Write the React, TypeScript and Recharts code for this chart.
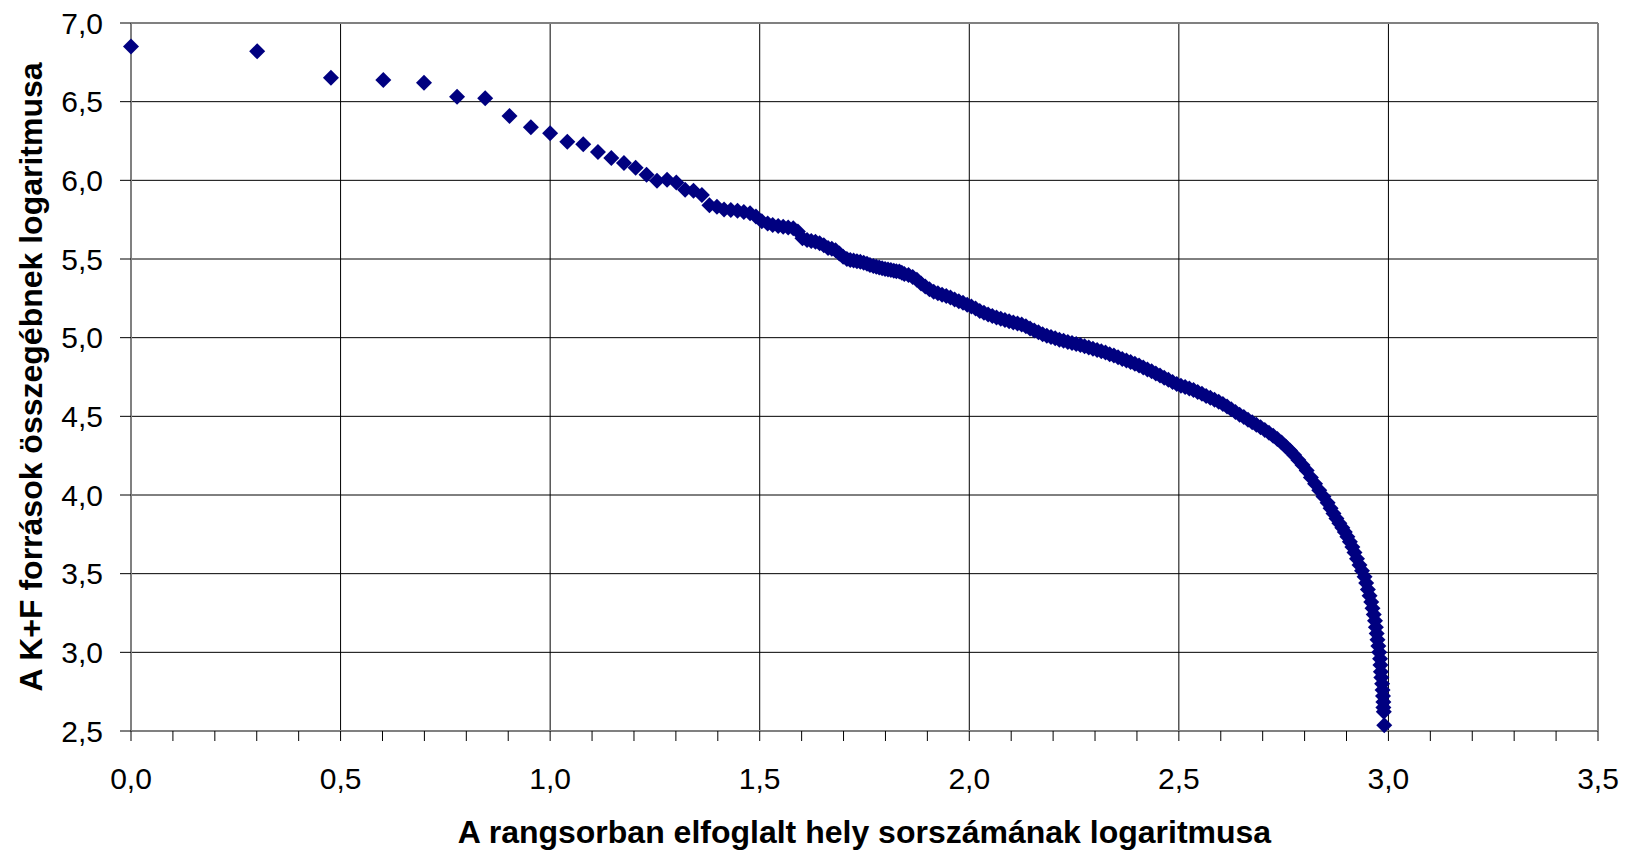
import React from 'react';
import { ScatterChart, Scatter, XAxis, YAxis, CartesianGrid, ReferenceLine } from 'recharts';

// Ranks 1..70: [log10(rank), log10(K+F sum)]
const headPoints: [number, number][] = [
  [0, 6.85], [0.301, 6.82], [0.477, 6.652], [0.602, 6.638], [0.699, 6.62],
  [0.778, 6.531], [0.845, 6.521], [0.903, 6.409], [0.954, 6.337], [1.0, 6.3],
  [1.041, 6.245], [1.079, 6.229], [1.114, 6.18], [1.146, 6.142], [1.176, 6.11],
  [1.204, 6.08], [1.23, 6.036], [1.255, 5.998], [1.279, 6.004], [1.301, 5.986],
  [1.322, 5.94], [1.342, 5.934], [1.362, 5.906], [1.38, 5.842], [1.398, 5.832],
  [1.415, 5.814], [1.431, 5.812], [1.447, 5.806], [1.462, 5.798], [1.477, 5.79],
  [1.491, 5.77], [1.505, 5.74], [1.519, 5.725], [1.531, 5.716], [1.544, 5.709],
  [1.556, 5.705], [1.568, 5.7], [1.58, 5.695], [1.591, 5.675], [1.602, 5.632],
  [1.613, 5.62], [1.623, 5.615], [1.633, 5.61], [1.643, 5.6], [1.653, 5.588],
  [1.663, 5.57], [1.672, 5.565], [1.681, 5.556], [1.69, 5.535], [1.699, 5.515],
  [1.708, 5.5], [1.716, 5.493], [1.724, 5.49], [1.732, 5.486], [1.74, 5.482],
  [1.748, 5.476], [1.756, 5.47], [1.763, 5.462], [1.771, 5.456], [1.778, 5.45],
  [1.785, 5.446], [1.792, 5.442], [1.799, 5.437], [1.806, 5.433], [1.813, 5.43],
  [1.82, 5.426], [1.826, 5.422], [1.833, 5.42], [1.839, 5.412], [1.845, 5.405],
];

const bodyPoints: [number, number][] = [
  [1.855, 5.398], [1.865, 5.385], [1.875, 5.368], [1.885, 5.345], [1.895, 5.325],
  [1.905, 5.308], [1.915, 5.292], [1.925, 5.282], [1.935, 5.272], [1.945, 5.265],
  [1.955, 5.255], [1.965, 5.243], [1.975, 5.232], [1.985, 5.222], [1.995, 5.21],
  [2.005, 5.198], [2.015, 5.185], [2.025, 5.17], [2.035, 5.158], [2.045, 5.148],
  [2.055, 5.138], [2.065, 5.128], [2.075, 5.12], [2.085, 5.112], [2.095, 5.105],
  [2.105, 5.097], [2.115, 5.09], [2.125, 5.083], [2.135, 5.072], [2.145, 5.058],
  [2.155, 5.046], [2.165, 5.035], [2.175, 5.022], [2.185, 5.012], [2.195, 5.004],
  [2.205, 4.996], [2.215, 4.987], [2.225, 4.98], [2.235, 4.973], [2.245, 4.966],
  [2.255, 4.96], [2.265, 4.953], [2.275, 4.945], [2.285, 4.937], [2.295, 4.93],
  [2.305, 4.922], [2.315, 4.913], [2.325, 4.905], [2.335, 4.895], [2.345, 4.886],
  [2.355, 4.876], [2.365, 4.865], [2.375, 4.855], [2.385, 4.845], [2.395, 4.835],
  [2.405, 4.823], [2.415, 4.81], [2.425, 4.798], [2.435, 4.786], [2.445, 4.773],
  [2.455, 4.76], [2.465, 4.746], [2.475, 4.732], [2.485, 4.718], [2.495, 4.706],
  [2.505, 4.695], [2.515, 4.686], [2.525, 4.677], [2.535, 4.667], [2.545, 4.655],
  [2.555, 4.643], [2.565, 4.63], [2.575, 4.618], [2.585, 4.605], [2.595, 4.592],
  [2.605, 4.578], [2.615, 4.562], [2.625, 4.545], [2.635, 4.527], [2.645, 4.51],
  [2.655, 4.495], [2.665, 4.478], [2.675, 4.462], [2.685, 4.446], [2.695, 4.43],
  [2.705, 4.413], [2.715, 4.395], [2.725, 4.376], [2.735, 4.356], [2.745, 4.334],
  [2.755, 4.308], [2.765, 4.283], [2.775, 4.254], [2.785, 4.222], [2.795, 4.19],
  [2.805, 4.155], [2.815, 4.112], [2.825, 4.072], [2.835, 4.03], [2.845, 3.99],
  [2.855, 3.95],
];

const tailPoints: [number, number][] = [
  [2.862, 3.915], [2.869, 3.883], [2.876, 3.85], [2.883, 3.82], [2.89, 3.792],
  [2.896, 3.765], [2.902, 3.735], [2.908, 3.703], [2.914, 3.67], [2.919, 3.635],
  [2.925, 3.595], [2.931, 3.555], [2.937, 3.518], [2.943, 3.48], [2.947, 3.44],
  [2.951, 3.4], [2.955, 3.36], [2.959, 3.32], [2.962, 3.28], [2.965, 3.24],
  [2.968, 3.2], [2.97, 3.16], [2.972, 3.12], [2.974, 3.08], [2.976, 3.04],
  [2.978, 3.0], [2.98, 2.96], [2.981, 2.92], [2.982, 2.876], [2.983, 2.84],
  [2.985, 2.8], [2.986, 2.76], [2.987, 2.722], [2.988, 2.685], [2.988, 2.65],
  [2.989, 2.622], [2.99, 2.537],
];

const xTicks = [
  0, 0.1, 0.2, 0.3, 0.4, 0.5, 0.6, 0.7, 0.8, 0.9, 1.0, 1.1, 1.2, 1.3, 1.4, 1.5, 1.6, 1.7,
  1.8, 1.9, 2.0, 2.1, 2.2, 2.3, 2.4, 2.5, 2.6, 2.7, 2.8, 2.9, 3.0, 3.1, 3.2, 3.3, 3.4, 3.5,
];
const xGrid = [0.5, 1.0, 1.5, 2.0, 2.5, 3.0];
const yTicks = [2.5, 3.0, 3.5, 4.0, 4.5, 5.0, 5.5, 6.0, 6.5, 7.0];

const xTitle = 'A rangsorban elfoglalt hely sorszámának logaritmusa';
const yTitle = 'A K+F források összegébnek logaritmusa';

const FONT = '"Liberation Sans", Arial, sans-serif';
const MARKER = '#000080';

const fmt = (v: number) => v.toFixed(1).replace('.', ',');

const Diamond = (props: any) => {
  const { cx, cy } = props;
  if (cx == null || cy == null) return null;
  const r = 8;
  return (
    <polygon
      points={`${cx},${cy - r} ${cx + r},${cy} ${cx},${cy + r} ${cx - r},${cy}`}
      fill={MARKER}
    />
  );
};

const XTick = (props: any) => {
  const { x, y, payload } = props;
  const v = payload.value as number;
  const major = Math.abs(v * 2 - Math.round(v * 2)) < 1e-6;
  return (
    <g>
      <line x1={x} y1={y} x2={x} y2={y + 10} stroke="#000" strokeWidth={1} />
      {major && (
        <text x={x} y={y + 58} textAnchor="middle" fontSize={30} fontFamily={FONT} fill="#000">
          {fmt(v)}
        </text>
      )}
    </g>
  );
};

export default function App() {
  const data = [...headPoints, ...bodyPoints, ...tailPoints].map(([x, y]) => ({ x, y }));
  return (
    <div style={{ position: 'absolute', left: 0, top: 0, width: 1636, height: 851, background: '#fff' }}>
      <ScatterChart width={1636} height={851} margin={{ top: 23, right: 38, bottom: 0, left: 0 }}>
        <CartesianGrid vertical={false} stroke="#000" strokeWidth={1} />
        {xGrid.map((v) => (
          <ReferenceLine key={v} x={v} stroke="#000" strokeWidth={1} />
        ))}
        <ReferenceLine y={7} stroke="#808080" strokeWidth={2} />
        <ReferenceLine x={3.5} stroke="#808080" strokeWidth={2} />
        <XAxis
          type="number"
          dataKey="x"
          domain={[0, 3.5]}
          ticks={xTicks}
          interval={0}
          tick={<XTick />}
          tickLine={false}
          tickSize={0}
          tickMargin={0}
          height={120}
          axisLine={{ stroke: '#808080', strokeWidth: 2 }}
          label={{
            value: xTitle,
            position: 'insideBottom',
            offset: 8,
            fontSize: 32,
            fontWeight: 'bold',
            fill: '#000',
            fontFamily: FONT,
          }}
        />
        <YAxis
          type="number"
          dataKey="y"
          domain={[2.5, 7]}
          ticks={yTicks}
          interval={0}
          width={131}
          tickSize={11}
          tickMargin={17}
          tickFormatter={fmt}
          tick={{ fontSize: 30, fill: '#000', fontFamily: FONT }}
          tickLine={{ stroke: '#000' }}
          axisLine={{ stroke: '#808080', strokeWidth: 2 }}
          label={{
            value: yTitle,
            angle: -90,
            position: 'insideLeft',
            offset: 31,
            fontSize: 32,
            fontWeight: 'bold',
            fill: '#000',
            fontFamily: FONT,
            style: { textAnchor: 'middle' },
          }}
        />
        <Scatter data={data} shape={<Diamond />} isAnimationActive={false} />
      </ScatterChart>
    </div>
  );
}
